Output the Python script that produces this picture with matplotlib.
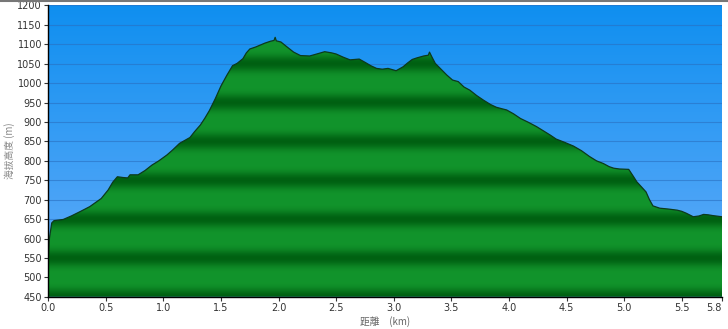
import numpy as np
import matplotlib
matplotlib.use("Agg")
import matplotlib.pyplot as plt
from matplotlib.patches import Polygon
from matplotlib.colors import LinearSegmentedColormap
from matplotlib.lines import Line2D

# elevation profile
dist_km = [0.0, 0.01, 0.03, 0.05, 0.13, 0.2, 0.275, 0.36, 0.46, 0.52, 0.56, 0.6, 0.65, 0.69,
           0.71, 0.78, 0.84, 0.9, 0.96, 1.03, 1.08, 1.14, 1.2, 1.23, 1.27, 1.32, 1.36, 1.4,
           1.45, 1.5, 1.55, 1.6, 1.64, 1.69, 1.72, 1.75, 1.8, 1.84, 1.88, 1.93, 1.96, 1.97,
           1.98, 2.02, 2.07, 2.13, 2.19, 2.27, 2.33, 2.4, 2.46, 2.5, 2.56, 2.62, 2.7, 2.76,
           2.8, 2.85, 2.9, 2.95, 3.02, 3.08, 3.12, 3.16, 3.2, 3.26, 3.3, 3.31, 3.33, 3.36,
           3.41, 3.46, 3.51, 3.56, 3.61, 3.66, 3.72, 3.78, 3.84, 3.89, 3.94, 3.98, 4.04, 4.1,
           4.17, 4.24, 4.3, 4.36, 4.41, 4.48, 4.56, 4.63, 4.7, 4.76, 4.82, 4.87, 4.91, 4.96,
           5.04, 5.08, 5.11, 5.15, 5.19, 5.22, 5.25, 5.31, 5.38, 5.46, 5.5, 5.54, 5.6, 5.65,
           5.69, 5.73, 5.77, 5.85]
elev_m = [548, 600, 640, 646, 649, 658, 669, 682, 703, 725, 745, 759, 757, 756,
          764, 764, 775, 789, 800, 815, 828, 845, 855, 860, 875, 892, 910, 930,
          960, 993, 1020, 1045, 1051, 1063, 1078, 1088, 1093, 1098, 1103, 1108, 1110, 1118,
          1109, 1106, 1094, 1080, 1071, 1070, 1075, 1081, 1078, 1075, 1067, 1060, 1062, 1052,
          1045, 1038, 1036, 1038, 1032, 1042, 1052, 1061, 1065, 1070, 1072, 1080, 1068, 1051,
          1036, 1021, 1008, 1004, 990, 982, 968, 956, 945, 938, 934, 931, 921, 909,
          899, 888, 877, 866, 856, 848, 838, 826, 811, 800, 793, 785, 781, 779,
          778, 760, 746, 733, 720, 700, 684, 678, 676, 673, 670, 665, 656, 658,
          662, 661, 659, 656]

y_min, y_max = 450, 1200
x_max = 5.85
x_ticks = [0.0, 0.5, 1.0, 1.5, 2.0, 2.5, 3.0, 3.5, 4.0, 4.5, 5.0, 5.5, x_max]
x_ticklabels = ["0.0", "0.5", "1.0", "1.5", "2.0", "2.5", "3.0", "3.5", "4.0", "4.5",
                "5.0", "5.5", "5.8"]
y_ticks = list(range(450, 1201, 50))

plt.rcParams['font.family'] = ['DejaVu Sans', 'Noto Sans CJK TC']

fig = plt.figure(figsize=(7.28, 3.29), dpi=100)
ax = fig.add_axes([0.0663, 0.098, 0.9255, 0.8853])

# sky background: vertical gradient
sky = LinearSegmentedColormap.from_list("sky", [(0.40, 0.68, 0.98), (0.06, 0.56, 0.94)])
grad = np.linspace(0, 1, 256).reshape(-1, 1)
ax.imshow(grad, cmap=sky, origin="lower", aspect="auto",
          extent=[0, x_max, y_min, y_max], zorder=0)

# ground: banded green texture clipped to the profile
levels = np.linspace(y_min, y_max, 1500)
band = 0.5 + 0.5 * np.cos(2 * np.pi * (levels - 550) / 100.0)
band = band ** 2.2
greens = LinearSegmentedColormap.from_list("greens", [(0.07, 0.58, 0.17), (0.0, 0.38, 0.07)])
img = ax.imshow(band.reshape(-1, 1), cmap=greens, origin="lower", aspect="auto",
                extent=[0, x_max, y_min, y_max], zorder=2, vmin=0, vmax=1)
poly_xy = np.column_stack([dist_km + [dist_km[-1], dist_km[0]], elev_m + [y_min, y_min]])
ground = Polygon(poly_xy, closed=True, facecolor="none", edgecolor="none", zorder=2)
ax.add_patch(ground)
img.set_clip_path(ground)
ax.plot(dist_km, elev_m, color="#0c3a1c", lw=0.9, zorder=3)

ax.set_xlim(0, x_max)
ax.set_ylim(y_min, y_max)
ax.set_xticks(x_ticks)
ax.set_xticklabels(x_ticklabels)
ax.get_xticklabels()[-1].set_horizontalalignment("right")
ax.set_yticks(y_ticks)
ax.set_axisbelow(True)
ax.grid(axis="y", color="#2a6fc0", lw=0.8, alpha=0.6)
ax.grid(axis="x", visible=False)

for s in ["top", "right"]:
    ax.spines[s].set_visible(False)
for s in ["left", "bottom"]:
    ax.spines[s].set_color("black")
    ax.spines[s].set_linewidth(1.0)
    ax.spines[s].set_zorder(4)
ax.tick_params(labelsize=7, colors="#333333", length=3, width=0.8, pad=1.5)

ax.set_ylabel("海拔高度 (m)", fontsize=7, color="#888888", labelpad=2,
              family=['Noto Sans CJK TC', 'DejaVu Sans'])
ax.set_xlabel("距離　(km)", fontsize=7, color="#666666", labelpad=2,
              family=['Noto Sans CJK TC', 'DejaVu Sans'])

fig.add_artist(Line2D([0, 1], [0.997, 0.997], transform=fig.transFigure,
                      color="#777777", lw=1.5))

fig.savefig("out.png", dpi=100)
